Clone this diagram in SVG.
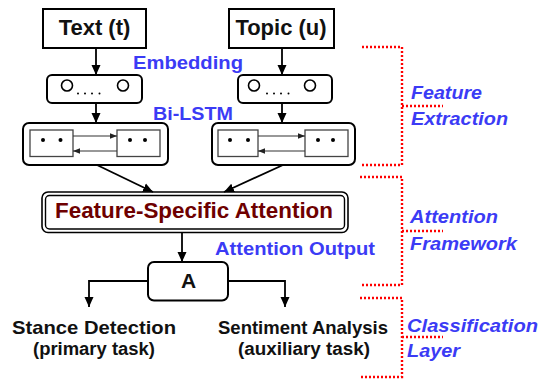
<svg xmlns="http://www.w3.org/2000/svg" width="542" height="379" viewBox="0 0 542 379">
<style>
text{font-family:"Liberation Sans",Arial,Helvetica,sans-serif;font-weight:bold}
.box{fill:#fff;stroke:#000;stroke-width:2}
.inner{fill:#fff;stroke:#444;stroke-width:1.3}
.blk{fill:#111;text-anchor:middle}
.blue{fill:#3b3bf5;text-anchor:middle}
.side{fill:#3b3bf5;font-style:italic}
.con{fill:none;stroke:#000;stroke-width:1.8}
.thin{fill:none;stroke:#333;stroke-width:1.1}
.red{fill:none;stroke:#f00;stroke-width:2.4;stroke-dasharray:2 2}
</style>
<defs>
<marker id="ah" markerUnits="userSpaceOnUse" markerWidth="10" markerHeight="10" viewBox="0 0 10 10" refX="10" refY="5" orient="auto">
<path d="M0,0.5 L10,5 L0,9.5 z" fill="#000"/>
</marker>
<marker id="ahs" markerUnits="userSpaceOnUse" markerWidth="7" markerHeight="7" viewBox="0 0 10 10" refX="10" refY="5" orient="auto">
<path d="M0,1 L10,5 L0,9 z" fill="#222"/>
</marker>
</defs>
<g id="text-input">
<rect class="box" x="43" y="9" width="103" height="39"/>
<text class="blk" x="94.5" y="34.5" font-size="22">Text (t)</text>
</g>
<g id="topic-input">
<rect class="box" x="229" y="9" width="105" height="39"/>
<text class="blk" x="281" y="34.5" font-size="22">Topic (u)</text>
</g>
<g id="embedding-left">
<rect class="box" x="47" y="75" width="95" height="28" rx="5"/>
<circle cx="67" cy="85.5" r="5.5" fill="#fff" stroke="#000" stroke-width="1.6"/>
<circle cx="123" cy="85.5" r="5.5" fill="#fff" stroke="#000" stroke-width="1.6"/>
<g fill="#000"><circle cx="78" cy="93.5" r="1"/><circle cx="85" cy="93.5" r="1"/><circle cx="92" cy="93.5" r="1"/><circle cx="99.5" cy="93.5" r="1"/></g>
</g>
<g id="embedding-right">
<rect class="box" x="238" y="75" width="94" height="28" rx="5"/>
<circle cx="254" cy="85.5" r="5.5" fill="#fff" stroke="#000" stroke-width="1.6"/>
<circle cx="310" cy="85.5" r="5.5" fill="#fff" stroke="#000" stroke-width="1.6"/>
<g fill="#000"><circle cx="267" cy="93.5" r="1"/><circle cx="274" cy="93.5" r="1"/><circle cx="281" cy="93.5" r="1"/><circle cx="288.5" cy="93.5" r="1"/></g>
</g>
<g id="bilstm-left">
<rect class="box" x="23" y="123" width="145" height="42" rx="6"/>
<rect class="inner" x="30" y="130" width="43" height="26.5"/>
<rect class="inner" x="117" y="130" width="43" height="26.5"/>
<g fill="#000"><circle cx="43" cy="140" r="2"/><circle cx="60.5" cy="140" r="2"/><circle cx="130" cy="140" r="2"/><circle cx="145" cy="140" r="2"/></g>
<line class="thin" x1="73" y1="136" x2="117" y2="136" marker-end="url(#ahs)"/>
<line class="thin" x1="117" y1="151" x2="73" y2="151" marker-end="url(#ahs)"/>
</g>
<g id="bilstm-right">
<rect class="box" x="212" y="123" width="143" height="42" rx="6"/>
<rect class="inner" x="218" y="130" width="40" height="26.5"/>
<rect class="inner" x="305" y="130" width="43" height="26.5"/>
<g fill="#000"><circle cx="230" cy="140" r="2"/><circle cx="248" cy="140" r="2"/><circle cx="318" cy="140" r="2"/><circle cx="333" cy="140" r="2"/></g>
<line class="thin" x1="258" y1="136" x2="305" y2="136" marker-end="url(#ahs)"/>
<line class="thin" x1="305" y1="151" x2="258" y2="151" marker-end="url(#ahs)"/>
</g>
<g id="attention">
<rect x="42" y="192" width="306" height="40.5" rx="6" fill="#fff" stroke="#000" stroke-width="1.6"/>
<rect x="45.5" y="195.5" width="299" height="33.5" rx="4" fill="#fff" stroke="#000" stroke-width="1.4"/>
<text x="194" y="217.5" font-size="22" fill="#6e0000" text-anchor="middle" textLength="278" lengthAdjust="spacingAndGlyphs">Feature-Specific Attention</text>
</g>
<g id="output-a">
<rect class="box" x="148" y="262" width="80" height="38.5" rx="6"/>
<text class="blk" x="188.5" y="287.5" font-size="21">A</text>
</g>
<g id="stance">
<text class="blk" x="94" y="334" font-size="18.5" textLength="164" lengthAdjust="spacingAndGlyphs">Stance Detection</text>
<text class="blk" x="94" y="355" font-size="18" textLength="122" lengthAdjust="spacingAndGlyphs">(primary task)</text>
</g>
<g id="sentiment">
<text class="blk" x="303" y="334" font-size="18.5" textLength="170" lengthAdjust="spacingAndGlyphs">Sentiment Analysis</text>
<text class="blk" x="304" y="355" font-size="18" textLength="132" lengthAdjust="spacingAndGlyphs">(auxiliary task)</text>
</g>
<g id="labels">
<text class="blue" x="188" y="69" font-size="18.5" textLength="110" lengthAdjust="spacingAndGlyphs">Embedding</text>
<text class="blue" x="193" y="120" font-size="18.5" textLength="80" lengthAdjust="spacingAndGlyphs">Bi-LSTM</text>
<text class="blue" x="295" y="255" font-size="18.5" textLength="160" lengthAdjust="spacingAndGlyphs">Attention Output</text>
</g>
<g id="stage-labels">
<text class="side" x="411" y="98.5" font-size="18.5" textLength="71" lengthAdjust="spacingAndGlyphs">Feature</text>
<text class="side" x="411" y="124.5" font-size="18.5" textLength="97" lengthAdjust="spacingAndGlyphs">Extraction</text>
<text class="side" x="410" y="223" font-size="18.5" textLength="88" lengthAdjust="spacingAndGlyphs">Attention</text>
<text class="side" x="410" y="250" font-size="18.5" textLength="107" lengthAdjust="spacingAndGlyphs">Framework</text>
<text class="side" x="407" y="332" font-size="18.5" textLength="131" lengthAdjust="spacingAndGlyphs">Classification</text>
<text class="side" x="407" y="357" font-size="18.5" textLength="53" lengthAdjust="spacingAndGlyphs">Layer</text>
</g>
<g id="brackets">
<path class="red" d="M362,47 H402 V165 H360 M402,106 H443"/>
<path class="red" d="M360,177 H402 V285 H360 M402,231 H443"/>
<path class="red" d="M360,298 H402 V377 H360 M402,337 H443"/>
</g>
<g id="connectors">
<line class="con" x1="96" y1="48" x2="96" y2="75" marker-end="url(#ah)"/>
<line class="con" x1="282" y1="48" x2="282" y2="75" marker-end="url(#ah)"/>
<line class="con" x1="96" y1="103" x2="96" y2="123" marker-end="url(#ah)"/>
<line class="con" x1="282" y1="103" x2="282" y2="123" marker-end="url(#ah)"/>
<line class="con" x1="97" y1="165" x2="153" y2="192" marker-end="url(#ah)"/>
<line class="con" x1="283" y1="165" x2="224" y2="192" marker-end="url(#ah)"/>
<line class="con" x1="182" y1="232.5" x2="182" y2="262" marker-end="url(#ah)"/>
<polyline class="con" points="148,281 89,281 89,307" marker-end="url(#ah)"/>
<polyline class="con" points="228,281 285,281 285,307" marker-end="url(#ah)"/>
</g>
</svg>
